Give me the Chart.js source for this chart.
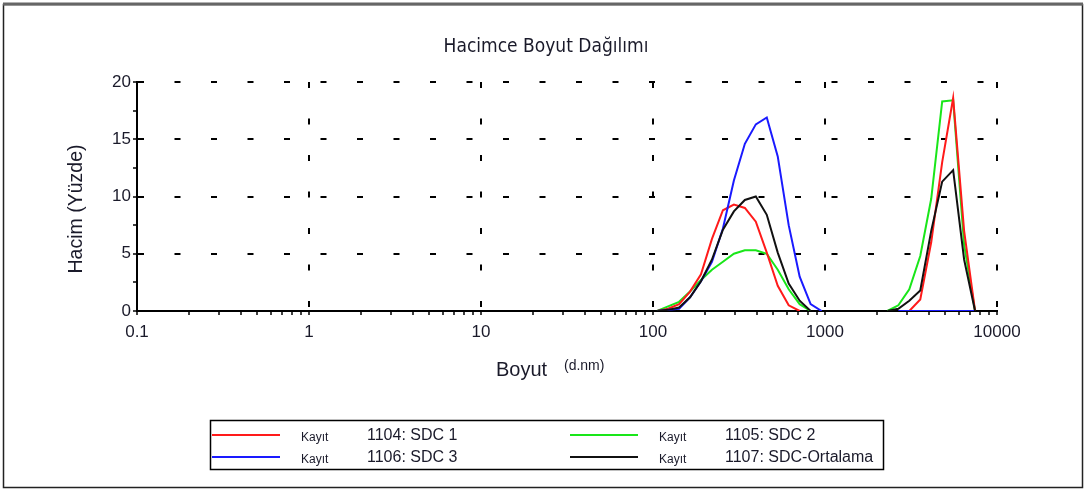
<!DOCTYPE html>
<html>
<head>
<meta charset="utf-8">
<title>Hacimce Boyut Dağılımı</title>
<script src="https://cdn.jsdelivr.net/npm/chart.js@4.4.1/dist/chart.umd.min.js"></script>
<style>
  html, body { margin: 0; padding: 0; background: #fff; }
  #wrap { position: relative; width: 1086px; height: 491px; }
</style>
</head>
<body>
<div id="wrap"><canvas id="sizeChart"></canvas></div>
<script>
// Size bins (d.nm) where the instrument reports values
const sizes = [105.7, 122.4, 141.8, 164.2, 190.1, 220.2, 255.0, 295.3, 342.0, 396.1,
               458.7, 531.2, 615.1, 712.4, 825.0, 955.4, 1106, 1281, 1484, 1718,
               1990, 2305, 2669, 3091, 3580, 4145, 4801, 5560, 6439, 7456, 8635];

// Volume (%) per bin, null where the record has no line drawn
const kayit1104 = [0, 0.2, 0.6, 1.7, 3.2, 6.3, 8.8, 9.3, 9.0, 7.8,
                   5.1, 2.2, 0.5, 0, null, null, null, null, null, null,
                   null, null, null, 0, 1.0, 6.0, 13.0, 18.6, 7.0, 0, null];
const kayit1105 = [0, 0.4, 0.8, 1.7, 2.7, 3.6, 4.3, 5.0, 5.3, 5.3,
                   5.0, 3.6, 1.9, 0.6, 0, null, null, null, null, null,
                   null, 0, 0.5, 1.9, 4.8, 9.8, 18.3, 18.4, 5.8, 0, null];
const kayit1106 = [0, 0.1, 0.2, 1.2, 2.6, 4.3, 7.2, 11.4, 14.6, 16.3,
                   16.9, 13.5, 7.5, 3.0, 0.6, 0, null, null, null, null,
                   null, null, 0, 0, 0, 0, 0, 0, 0, 0, null];
const kayit1107 = [0, 0.1, 0.3, 1.2, 2.6, 4.5, 7.1, 8.7, 9.7, 10.0,
                   8.4, 5.1, 2.4, 0.9, 0, null, null, null, null, null,
                   null, 0, 0.2, 0.9, 1.8, 7.0, 11.3, 12.3, 4.5, 0, null];

const seriesLabels = ['1104: SDC 1', '1105: SDC 2', '1106: SDC 3', '1107: SDC-Ortalama'];
const xTickLabels = ['0.1', '1', '10', '100', '1000', '10000'];
const yTickLabels = ['0', '5', '10', '15', '20'];

const FONT = '"Liberation Sans", Arial, sans-serif';
const decades = xTickLabels.map(Number);
const isDecade = (v) => decades.some(d => Math.abs(v - d) / d < 1e-6);

function toPoints(values) {
    return sizes.map((s, i) => ({ x: s, y: values[i] }));
}

// Titles, legend box and outer frame drawn on the canvas
const decorPlugin = {
    id: 'decor',
    beforeDraw(chart) {
        const ctx = chart.ctx;
        ctx.save();
        ctx.fillStyle = '#fff';
        ctx.fillRect(0, 0, chart.width, chart.height);
        ctx.restore();
    },
    afterDraw(chart) {
        const ctx = chart.ctx;
        ctx.save();
        ctx.fillStyle = '#1a1a2a';
        ctx.textBaseline = 'middle';

        // chart title
        ctx.textAlign = 'center';
        ctx.font = '19px "DejaVu Sans Condensed", ' + FONT;
        ctx.fillText('Hacimce Boyut Dağılımı', 546, 47);

        // y axis title
        ctx.save();
        ctx.translate(77, 209);
        ctx.rotate(-Math.PI / 2);
        ctx.font = '19.5px ' + FONT;
        ctx.fillText('Hacim (Yüzde)', 0, 0);
        ctx.restore();

        // x axis title
        ctx.textAlign = 'left';
        ctx.font = '20px ' + FONT;
        ctx.fillText('Boyut', 496, 370);
        ctx.font = '14px ' + FONT;
        ctx.fillText('(d.nm)', 564, 366);

        // legend box
        ctx.strokeStyle = '#000';
        ctx.lineWidth = 1.5;
        ctx.strokeRect(210.5, 420.5, 673, 49);
        chart.data.datasets.forEach((ds, i) => {
            const x0 = i % 2 === 0 ? 212 : 570;
            const y0 = i < 2 ? 435 : 457;
            ctx.strokeStyle = ds.borderColor;
            ctx.lineWidth = 2;
            ctx.beginPath();
            ctx.moveTo(x0, y0);
            ctx.lineTo(x0 + 68, y0);
            ctx.stroke();
            ctx.fillStyle = '#1a1a2a';
            ctx.font = '12px ' + FONT;
            ctx.fillText('Kayıt', x0 + 89, y0 + 3);
            ctx.font = '16px ' + FONT;
            ctx.fillText(ds.label, x0 + 155, y0 + 1);
        });

        // outer frame
        ctx.strokeStyle = '#222';
        ctx.lineWidth = 1.5;
        ctx.strokeRect(3.5, 4.5, 1079, 483);
        ctx.strokeStyle = '#666';
        ctx.lineWidth = 3;
        ctx.beginPath();
        ctx.moveTo(3, 4);
        ctx.lineTo(1083, 4);
        ctx.stroke();
        ctx.restore();
    }
};

new Chart(document.getElementById('sizeChart'), {
    type: 'line',
    data: {
        datasets: [
            { label: seriesLabels[0], data: toPoints(kayit1104), borderColor: '#ff1a1a', order: 2 },
            { label: seriesLabels[1], data: toPoints(kayit1105), borderColor: '#19e619', order: 3 },
            { label: seriesLabels[2], data: toPoints(kayit1106), borderColor: '#1a1aff', order: 1 },
            { label: seriesLabels[3], data: toPoints(kayit1107), borderColor: '#111111', order: 0 }
        ]
    },
    options: {
        responsive: true,
        maintainAspectRatio: false,
        animation: false,
        spanGaps: false,
        elements: {
            line: { borderWidth: 2, tension: 0, fill: false },
            point: { radius: 0, hoverRadius: 0 }
        },
        layout: {
            padding: { left: 87, right: 89, top: 82, bottom: 140 }
        },
        plugins: {
            legend: { display: false },
            title: { display: false },
            tooltip: { enabled: false }
        },
        scales: {
            x: {
                type: 'logarithmic',
                min: 0.1,
                max: 10000,
                afterBuildTicks: (scale) => {
                    const vals = [];
                    for (let d = 0; d < decades.length - 1; d++) {
                        for (let k = 1; k <= 9; k++) vals.push(k * decades[d]);
                    }
                    vals.push(decades[decades.length - 1]);
                    scale.ticks = vals.map(v => ({ value: v }));
                },
                afterFit: (scale) => { scale.height = 40; },
                ticks: {
                    autoSkip: false,
                    maxRotation: 0,
                    minRotation: 0,
                    padding: 7,
                    color: '#1a1a2a',
                    font: { family: FONT, size: 17 },
                    callback: (value) => {
                        const idx = decades.findIndex(d => Math.abs(value - d) / d < 1e-6);
                        return idx >= 0 ? xTickLabels[idx] : '';
                    }
                },
                grid: {
                    color: (ctx) => (ctx.tick && isDecade(ctx.tick.value)) ? '#000' : 'rgba(0,0,0,0)',
                    lineWidth: 2,
                    tickColor: '#000',
                    tickLength: 4,
                    tickWidth: 1.5
                },
                border: { display: true, color: '#000', width: 2, dash: [6, 30.5] }
            },
            y: {
                min: 0,
                max: 20,
                afterFit: (scale) => { scale.width = 50; },
                ticks: {
                    stepSize: 2.5,
                    padding: 2,
                    color: '#1a1a2a',
                    font: { family: FONT, size: 17 },
                    callback: (value) => yTickLabels.includes(String(value)) ? String(value) : ''
                },
                grid: {
                    color: (ctx) => (ctx.tick && ctx.tick.value % 5 === 0 && ctx.tick.value > 0) ? '#000' : 'rgba(0,0,0,0)',
                    lineWidth: 2,
                    tickColor: '#000',
                    tickLength: 4,
                    tickWidth: 1.5
                },
                border: { display: true, color: '#000', width: 2, dash: [6, 30.5] }
            }
        }
    },
    plugins: [decorPlugin]
});
</script>
</body>
</html>
